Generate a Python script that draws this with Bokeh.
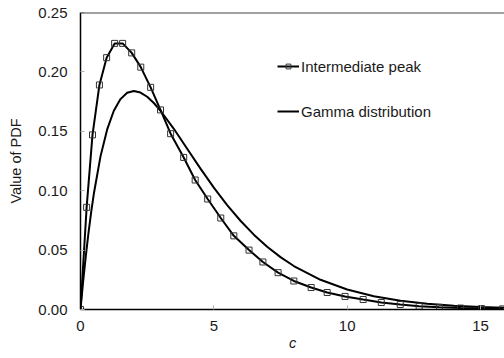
from bokeh.plotting import figure
from bokeh.models import Range1d, Span, Legend, LegendItem, FixedTicker, NumeralTickFormatter
from bokeh.embed import file_html
from bokeh.resources import INLINE

# Intermediate peak (markers + line)
ip_x = [0, 0.23, 0.45, 0.71, 0.98, 1.28, 1.58, 1.92, 2.26, 2.63, 3.0, 3.38, 3.87, 4.3,
        4.77, 5.26, 5.75, 6.32, 6.84, 7.41, 8.0, 8.65, 9.25, 9.92, 10.6, 11.28, 11.99,
        12.7, 13.46, 14.25, 15.04, 15.83]
ip_y = [0, 0.086, 0.147, 0.189, 0.212, 0.224, 0.224, 0.216, 0.204, 0.187, 0.168, 0.148,
        0.128, 0.109, 0.093, 0.077, 0.062, 0.050, 0.040, 0.031, 0.024, 0.0185, 0.0143,
        0.011, 0.0084, 0.0059, 0.0042, 0.0027, 0.0018, 0.0012, 0.0008, 0.0005]

# Gamma distribution (line)
g_x = [0, 0.1, 0.2, 0.3, 0.4, 0.5, 0.75, 1.0, 1.25, 1.5, 1.75, 2.0, 2.25, 2.5, 2.75, 3.0,
       3.5, 4.0, 4.5, 5.0, 5.5, 6.0, 6.5, 7.0, 7.5, 8.0, 9.0, 10, 11, 12, 13, 14, 15, 16]
g_y = [0, 0.0238, 0.0452, 0.0646, 0.0819, 0.0974, 0.1289, 0.1516, 0.1673, 0.1771, 0.1824,
       0.1839, 0.1826, 0.1791, 0.1738, 0.1673, 0.1521, 0.1353, 0.1186, 0.1026, 0.0879,
       0.0747, 0.0630, 0.0528, 0.0441, 0.0366, 0.0250, 0.0168, 0.0112, 0.0074, 0.0049,
       0.0032, 0.0021, 0.0013]

x_ticks = [0, 5, 10, 15]
y_ticks = [0, 0.05, 0.10, 0.15, 0.20, 0.25]

FONT = "Liberation Sans"
TXT = "#1a1a1a"

p = figure(width=504, height=358, output_backend="svg", toolbar_location=None,
           x_range=Range1d(0, 15.9), y_range=Range1d(0, 0.25),
           min_border_left=80, min_border_right=0, min_border_top=12, min_border_bottom=49)
p.outline_line_color = None
p.xgrid.grid_line_color = None
p.ygrid.grid_line_color = None
p.background_fill_color = "white"
p.border_fill_color = "white"

for ax in (p.xaxis[0], p.yaxis[0]):
    ax.axis_line_color = "black"
    ax.axis_line_width = 1.5
    ax.major_tick_in = 4
    ax.major_tick_out = 0
    ax.major_tick_line_color = "#b0b0b0"
    ax.minor_tick_line_color = None
    ax.major_label_text_font = FONT
    ax.major_label_text_font_size = "15px"
    ax.major_label_text_color = TXT
    ax.axis_label_text_font = FONT
    ax.axis_label_text_font_size = "14.5px"
    ax.axis_label_text_color = TXT

p.xaxis.ticker = FixedTicker(ticks=x_ticks)
p.yaxis.ticker = FixedTicker(ticks=y_ticks)
p.yaxis.formatter = NumeralTickFormatter(format="0.00")
p.xaxis.major_label_standoff = 11
p.yaxis.major_label_standoff = 13
p.xaxis.axis_label = "c"
p.xaxis.axis_label_text_font_style = "italic"
p.xaxis.axis_label_standoff = 1
p.yaxis.axis_label = "Value of PDF"
p.yaxis.axis_label_text_font_style = "normal"
p.yaxis.axis_label_standoff = 11

p.add_layout(Span(location=0.25, dimension="width", line_color="#444444", line_width=2))

r_g = p.line(g_x, g_y, line_color="black", line_width=2)
r_ip = p.line(ip_x, ip_y, line_color="black", line_width=2)
r_ipm = p.scatter(ip_x, ip_y, marker="square", size=6, line_color="#333333",
                  line_width=1, fill_color=None)

legend = Legend(items=[LegendItem(label="Intermediate peak", renderers=[r_ip, r_ipm]),
                       LegendItem(label="Gamma distribution", renderers=[r_g])],
                location=(197, 188), padding=0, margin=0, spacing=25,
                glyph_width=22, glyph_height=12, label_height=20, label_standoff=2,
                border_line_color=None, background_fill_alpha=0,
                label_text_font=FONT, label_text_font_size="15px", label_text_color=TXT)
p.add_layout(legend)

open("out.html", "w").write(file_html(p, INLINE))
